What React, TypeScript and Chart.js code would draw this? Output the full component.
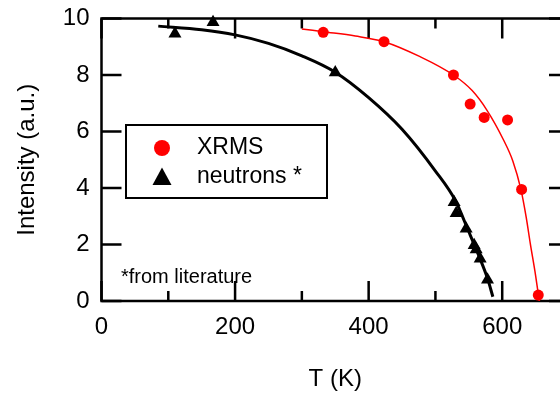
import React, { useEffect, useRef } from 'react';
import { Chart, registerables } from 'chart.js';

Chart.register(...registerables);

// ---- data ----
const xrmsT = [332, 423, 527, 552, 573, 608, 629, 654];
const xrmsI = [9.51, 9.18, 8.0, 6.97, 6.5, 6.41, 3.95, 0.21];

const neutronT = [110, 167, 350, 528, 531, 546, 558, 561, 567, 578];
const neutronI = [9.46, 9.87, 8.09, 3.5, 3.11, 2.56, 1.97, 1.82, 1.5, 0.75];

const xrmsFitT = [300, 332, 380, 423, 477, 527, 555, 577, 602, 616, 628, 636, 642, 650, 655.5];
const xrmsFitI = [9.63, 9.53, 9.38, 9.18, 8.65, 8.0, 7.45, 6.76, 5.7, 4.95, 3.95, 2.95, 2.04, 0.9, 0.0];

const neutronFitT = [85, 150, 200, 250, 300, 350, 400, 450, 500, 530, 550, 565, 578, 586];
const neutronFitI = [9.73, 9.6, 9.42, 9.12, 8.68, 8.1, 7.2, 6.08, 4.6, 3.55, 2.45, 1.6, 0.8, 0.15];

const xMajorTicks = [0, 200, 400, 600];
const xMinorTicks = [100, 300, 500, 700];
const yMajorTicks = [0, 2, 4, 6, 8, 10];

const legendLabels = ['XRMS', 'neutrons *'];
const noteText = '*from literature';
const xTitle = 'T (K)';
const yTitle = 'Intensity (a.u.)';

const FONT = '"Liberation Sans", Arial, Helvetica, sans-serif';

const toPts = (xs: number[], ys: number[]) => xs.map((v, i) => ({ x: v, y: ys[i] }));

const framePlugin = {
  id: 'frame',
  beforeDatasetsDraw(chart: any) {
    const { ctx, chartArea, scales } = chart;
    const { left, right, top, bottom } = chartArea;
    const x = scales.x;
    const y = scales.y;
    ctx.save();
    ctx.strokeStyle = '#000';
    ctx.lineWidth = 2.5;
    ctx.beginPath();
    ctx.rect(left, top, right - left, bottom - top);
    ctx.stroke();
    ctx.beginPath();
    const drawX = (v: number, len: number) => {
      const px = x.getPixelForValue(v);
      ctx.moveTo(px, bottom);
      ctx.lineTo(px, bottom - len);
      ctx.moveTo(px, top);
      ctx.lineTo(px, top + len);
    };
    xMajorTicks.forEach((v) => drawX(v, 20));
    xMinorTicks.forEach((v) => drawX(v, 10));
    yMajorTicks.forEach((v) => {
      const py = y.getPixelForValue(v);
      ctx.moveTo(left, py);
      ctx.lineTo(left + 20, py);
      ctx.moveTo(right, py);
      ctx.lineTo(right - 20, py);
    });
    ctx.stroke();
    ctx.restore();
  },
  afterDraw(chart: any) {
    const { ctx } = chart;
    ctx.save();
    // legend box
    const bx = 126, by = 125, bw = 201, bh = 73;
    ctx.fillStyle = '#fff';
    ctx.fillRect(bx, by, bw, bh);
    ctx.strokeStyle = '#000';
    ctx.lineWidth = 2;
    ctx.strokeRect(bx, by, bw, bh);
    // red circle
    ctx.fillStyle = '#ff0000';
    ctx.beginPath();
    ctx.arc(162, 148, 8, 0, Math.PI * 2);
    ctx.fill();
    // black triangle
    ctx.fillStyle = '#000';
    ctx.beginPath();
    ctx.moveTo(162, 167.5);
    ctx.lineTo(171.5, 185);
    ctx.lineTo(152.5, 185);
    ctx.closePath();
    ctx.fill();
    ctx.font = `23px ${FONT}`;
    ctx.textBaseline = 'middle';
    ctx.textAlign = 'left';
    ctx.fillStyle = '#000';
    ctx.fillText(legendLabels[0], 197, 148);
    ctx.fillText(legendLabels[1], 197, 177);
    // note
    ctx.font = `20px ${FONT}`;
    ctx.textBaseline = 'alphabetic';
    ctx.fillText(noteText, 121, 283);
    ctx.restore();
  },
};

export default function App() {
  const ref = useRef<HTMLCanvasElement>(null);
  useEffect(() => {
    if (!ref.current) return;
    const chart = new Chart(ref.current, {
      type: 'scatter',
      data: {
        datasets: [
          {
            label: 'XRMS fit',
            data: toPts(xrmsFitT, xrmsFitI),
            showLine: true,
            borderColor: '#ff0000',
            borderWidth: 1.5,
            pointRadius: 0,
            cubicInterpolationMode: 'monotone',
            clip: false,
          } as any,
          {
            label: 'neutrons fit',
            data: toPts(neutronFitT, neutronFitI),
            showLine: true,
            borderColor: '#000',
            borderWidth: 3,
            pointRadius: 0,
            cubicInterpolationMode: 'monotone',
            clip: false,
          } as any,
          {
            label: 'XRMS',
            data: toPts(xrmsT, xrmsI),
            pointStyle: 'circle',
            pointRadius: 5.5,
            backgroundColor: '#ff0000',
            borderColor: '#ff0000',
            borderWidth: 0,
            clip: false,
          } as any,
          {
            label: 'neutrons *',
            data: toPts(neutronT, neutronI),
            pointStyle: 'triangle',
            pointRadius: 7.5,
            backgroundColor: '#000',
            borderColor: '#000',
            borderWidth: 0,
            clip: false,
          } as any,
        ],
      },
      options: {
        animation: false,
        responsive: false,
        layout: { padding: { left: 0, top: 18.5, right: 31, bottom: 0 } },
        plugins: { legend: { display: false }, tooltip: { enabled: false } },
        scales: {
          x: {
            type: 'linear',
            min: 0,
            max: 700,
            grid: { display: false, drawTicks: false },
            border: { display: false },
            afterBuildTicks: (s: any) => {
              s.ticks = xMajorTicks.map((v) => ({ value: v }));
            },
            afterFit: (s: any) => {
              s.height = 97;
              s.paddingLeft = 0;
              s.paddingRight = 0;
              s.paddingTop = 0;
              s.paddingBottom = 0;
            },
            ticks: { color: '#000', font: { family: FONT, size: 24 }, padding: 12, maxRotation: 0 },
            title: { display: true, text: xTitle, color: '#000', font: { family: FONT, size: 24 }, padding: { top: 0, bottom: 4 } },
          },
          y: {
            type: 'linear',
            min: 0,
            max: 10,
            grid: { display: false, drawTicks: false },
            border: { display: false },
            afterBuildTicks: (s: any) => {
              s.ticks = yMajorTicks.map((v) => ({ value: v }));
            },
            afterFit: (s: any) => {
              s.width = 101.5;
              s.paddingLeft = 0;
              s.paddingRight = 0;
              s.paddingTop = 0;
              s.paddingBottom = 0;
            },
            ticks: { color: '#000', font: { family: FONT, size: 24 }, padding: 12 },
            title: { display: true, text: yTitle, color: '#000', font: { family: FONT, size: 24 }, padding: { top: 13, bottom: 0 } },
          },
        },
      },
      plugins: [framePlugin],
    } as any);
    return () => chart.destroy();
  }, []);
  return (
    <div style={{ position: 'fixed', left: 0, top: 0, width: 560, height: 398, overflow: 'hidden', background: '#fff' }}>
      <canvas ref={ref} width={600} height={398} style={{ display: 'block', width: 600, height: 398 }} />
    </div>
  );
}
